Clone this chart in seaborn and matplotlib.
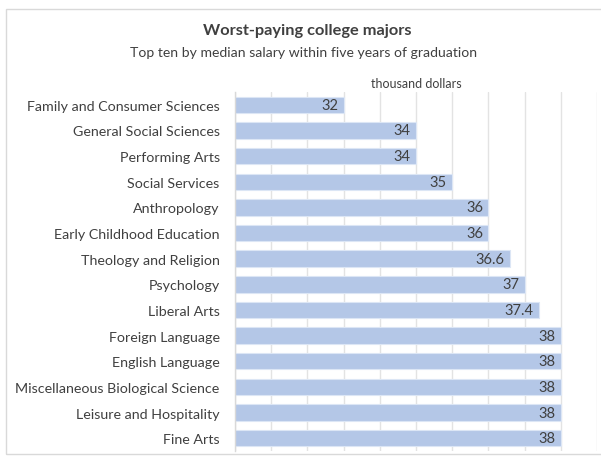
import matplotlib
matplotlib.use("Agg")
import matplotlib.pyplot as plt
import seaborn as sns
import pandas as pd
from matplotlib.patches import Rectangle

majors = ["Family and Consumer Sciences", "General Social Sciences", "Performing Arts",
          "Social Services", "Anthropology", "Early Childhood Education",
          "Theology and Religion", "Psychology", "Liberal Arts", "Foreign Language",
          "English Language", "Miscellaneous Biological Science", "Leisure and Hospitality",
          "Fine Arts"]
salary = [32, 34, 34, 35, 36, 36, 36.6, 37, 37.4, 38, 38, 38, 38, 38]
value_labels = ["32", "34", "34", "35", "36", "36", "36.6", "37", "37.4", "38", "38", "38", "38", "38"]

df = pd.DataFrame({"major": majors, "salary": salary})

sns.set_theme(style="white")
plt.rcParams['font.family'] = ['Lato', 'DejaVu Sans']

fig = plt.figure(figsize=(6.01, 4.6), dpi=100)
ax = fig.add_axes([235/601, 1-452/460, (597-235)/601, (452-93)/460])

sns.barplot(data=df, y="major", x="salary", ax=ax, color="#B4C7E7", width=0.64,
            edgecolor="#DCE6F5", linewidth=0.8, saturation=1)

ax.set_xlim(29, 39)
ax.set_ylim(13.5, -0.5)
ax.set_xticks(range(29, 40))
ax.set_xticklabels([])
ax.tick_params(axis='x', length=0)
ax.tick_params(axis='y', length=0, labelsize=10.3, labelcolor="#404040", pad=11)
ax.grid(axis='x', color="#E3E3E3", linewidth=1)
ax.set_axisbelow(True)
ax.set_xlabel("")
ax.set_ylabel("")
for s in ["top", "right", "bottom"]:
    ax.spines[s].set_visible(False)
ax.spines["left"].set_color("#D9D9D9")
ax.spines["left"].set_linewidth(1)

for i, (v, t) in enumerate(zip(salary, value_labels)):
    ax.text(v - 0.15, i, t, ha="right", va="center", fontsize=10.5, color="#404040")

fig.text(307/601, 1-31/460, "Worst-paying college majors", ha="center", va="center",
         fontsize=11.8, fontweight="bold", color="#404040")
fig.text(304/601, 1-53/460, "Top ten by median salary within five years of graduation",
         ha="center", va="center", fontsize=10.1, color="#404040")
fig.text(416/601, 1-84/460, "thousand dollars", ha="center", va="center",
         fontsize=9, color="#404040")

fig.patches.append(Rectangle((6/601, 1-455/460), 1.0, 445/460, transform=fig.transFigure,
                             fill=False, edgecolor="#D9D9D9", linewidth=1))

fig.savefig("out.png", dpi=100)
